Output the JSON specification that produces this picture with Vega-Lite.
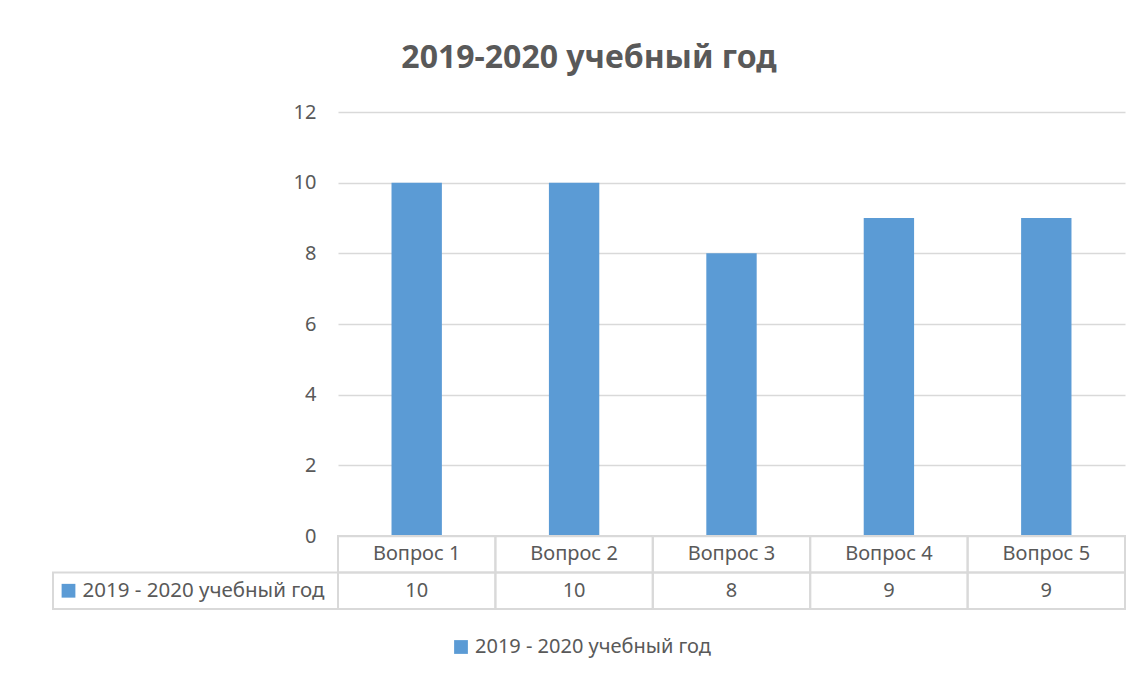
{
  "$schema": "https://vega.github.io/schema/vega-lite/v6.json",
  "background": "white",
  "padding": {"left": 52, "top": 42, "right": 23, "bottom": 10},
  "title": {"text": "2019-2020 учебный год", "fontSize": 32, "font": "Noto Sans", "fontWeight": "bold", "color": "#595959", "anchor": "middle", "offset": 27},
  "datasets": {
    "d": [
      {"q": "Вопрос 1", "v": 10, "s": "2019 - 2020 учебный год"},
      {"q": "Вопрос 2", "v": 10, "s": "2019 - 2020 учебный год"},
      {"q": "Вопрос  3", "v": 8, "s": "2019 - 2020 учебный год"},
      {"q": "Вопрос 4", "v": 9, "s": "2019 - 2020 учебный год"},
      {"q": "Вопрос 5", "v": 9, "s": "2019 - 2020 учебный год"}
    ]
  },
  "data": {"name": "d"},
  "columns": 2,
  "spacing": 0,
  "bounds": "flush",
  "resolve": {"scale": {"color": "shared", "x": "independent", "y": "independent"}, "legend": {"color": "shared"}},
  "concat": [
    {
      "width": 285,
      "height": 424,
      "data": {"values": [{}]},
      "mark": {"type": "text", "text": " "},
      "encoding": {}
    },
    {
      "width": 787,
      "height": 424,
      "mark": {"type": "bar", "width": {"band": 0.32}},
      "encoding": {
        "x": {"field": "q", "type": "nominal", "sort": ["Вопрос 1", "Вопрос 2", "Вопрос  3", "Вопрос 4", "Вопрос 5"], "axis": null, "scale": {"padding": 0}},
        "y": {"field": "v", "type": "quantitative", "scale": {"domain": [0, 12]},
          "axis": {"values": [0, 2, 4, 6, 8, 10, 12], "title": null, "domain": false, "ticks": false, "labelPadding": 22, "labelFontSize": 20, "labelFont": "Noto Sans", "labelColor": "#595959", "gridColor": "#D9D9D9", "gridWidth": 1.5}},
        "color": {"field": "s", "type": "nominal", "scale": {"range": ["#5B9BD5"]},
          "legend": {"title": null, "orient": "none", "legendX": 398, "legendY": 525, "direction": "horizontal", "labelFontSize": 20, "labelFont": "Noto Sans", "labelColor": "#595959", "labelLimit": 0, "labelOffset": 4, "symbolType": "square", "symbolSize": 190, "symbolStrokeWidth": 0}}
      }
    },
    {
      "width": 285,
      "height": 73,
      "transform": [{"aggregate": [{"op": "count", "as": "n"}], "groupby": ["s"]}],
      "layer": [
        {
          "mark": {"type": "rect", "fill": "transparent", "stroke": "#D9D9D9", "strokeWidth": 2},
          "encoding": {"y": {"datum": "v", "type": "nominal", "scale": {"domain": ["q", "v"], "padding": 0}, "axis": null}}
        },
        {
          "mark": {"type": "text", "fontSize": 20.5, "font": "Noto Sans", "color": "#595959", "dx": 8},
          "encoding": {"y": {"datum": "v", "type": "nominal"}, "text": {"field": "s", "type": "nominal"}}
        },
        {
          "mark": {"type": "point", "shape": "square", "filled": true, "size": 190, "color": "#5B9BD5", "opacity": 1, "xOffset": -127},
          "encoding": {"y": {"datum": "v", "type": "nominal"}}
        }
      ]
    },
    {
      "width": 787,
      "height": 73,
      "transform": [{"fold": ["q", "v"], "as": ["row", "val"]}],
      "layer": [
        {
          "mark": {"type": "rect", "fill": "transparent", "stroke": "#D9D9D9", "strokeWidth": 2},
          "encoding": {
            "x": {"field": "q", "type": "nominal", "sort": ["Вопрос 1", "Вопрос 2", "Вопрос  3", "Вопрос 4", "Вопрос 5"], "axis": null, "scale": {"padding": 0}},
            "y": {"field": "row", "type": "nominal", "sort": ["q", "v"], "axis": null, "scale": {"padding": 0}}
          }
        },
        {
          "mark": {"type": "text", "fontSize": 20, "font": "Noto Sans", "color": "#595959"},
          "encoding": {
            "x": {"field": "q", "type": "nominal", "sort": ["Вопрос 1", "Вопрос 2", "Вопрос  3", "Вопрос 4", "Вопрос 5"]},
            "y": {"field": "row", "type": "nominal", "sort": ["q", "v"]},
            "text": {"field": "val", "type": "nominal"}
          }
        }
      ]
    }
  ],
  "config": {"view": {"stroke": null}, "font": "Noto Sans"}
}
